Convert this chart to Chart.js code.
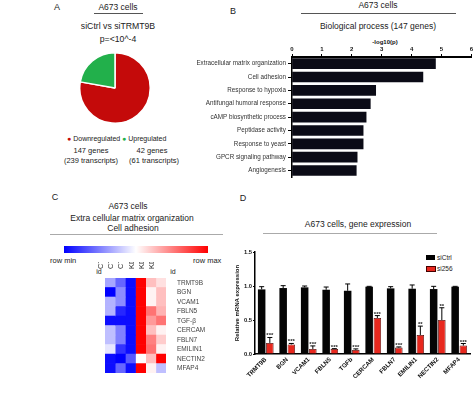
<!DOCTYPE html>
<html>
<head>
<meta charset="utf-8">
<script src="https://cdn.jsdelivr.net/npm/chart.js@4.4.1/dist/chart.umd.min.js"></script>
<style>
  body { margin: 0; background: #fff; }
  #fig { position: relative; width: 474px; height: 397px; overflow: hidden; font-family: 'Liberation Sans', Arial, sans-serif; color: #222; }
  .t { position: absolute; white-space: nowrap; line-height: 1; transform: translate(-50%, -50%); color: #222; }
  .l { position: absolute; white-space: nowrap; line-height: 1; transform: translateY(-50%); color: #222; }
  .hr { position: absolute; height: 0; }
  canvas { position: absolute; }
</style>
</head>
<body>
<div id="fig">
  <!-- panel A -->
  <div class="t" style="left:57px;top:7px;font-size:9px">A</div>
  <div class="t" style="left:118px;top:7px;font-size:8.5px">A673 cells</div>
  <div class="hr" style="left:94px;top:13px;width:49px;border-top:1px solid #555"></div>
  <div class="t" style="left:118px;top:26px;font-size:8.7px">siCtrl vs siTRMT9B</div>
  <div class="t" style="left:118px;top:39px;font-size:8.7px">p=&lt;10^-4</div>
  <canvas id="chartA" width="72" height="72" style="left:79px;top:52px"></canvas>
  <div class="l" style="left:67px;top:138px;font-size:7px"><span style="color:#c40a0a">&#9679;</span> Downregulated</div>
  <div class="l" style="left:122px;top:138px;font-size:7px"><span style="color:#22b04b">&#9679;</span> Upregulated</div>
  <div class="t" style="left:91px;top:151px;font-size:7.5px">147 genes</div>
  <div class="t" style="left:91px;top:161px;font-size:7.5px">(239 transcripts)</div>
  <div class="t" style="left:152px;top:151px;font-size:7.5px">42 genes</div>
  <div class="t" style="left:154px;top:161px;font-size:7.5px">(61 transcripts)</div>

  <!-- panel B -->
  <div class="t" style="left:233px;top:11px;font-size:9px">B</div>
  <div class="t" style="left:378px;top:5px;font-size:8.5px">A673 cells</div>
  <div class="hr" style="left:301px;top:13px;width:155px;border-top:1px solid #555"></div>
  <div class="t" style="left:378px;top:26px;font-size:8.5px">Biological process (147 genes)</div>
  <div class="t" style="left:385px;top:42px;font-size:6px;font-weight:bold;color:#111">-log10(p)</div>
  <canvas id="chartB" width="289" height="143" style="left:185px;top:40px"></canvas>

  <!-- panel C -->
  <div class="t" style="left:55px;top:197px;font-size:9px">C</div>
  <div class="t" style="left:128px;top:206px;font-size:8.5px">A673 cells</div>
  <div class="t" style="left:132px;top:218px;font-size:8.5px">Extra cellular matrix organization</div>
  <div class="t" style="left:133px;top:228px;font-size:8.5px">Cell adhesion</div>
  <div class="hr" style="left:50px;top:234px;width:173px;border-top:1.5px solid #aaa"></div>
  <div style="position:absolute;left:64px;top:246px;width:144px;height:7px;background:linear-gradient(to right,#0000ff,#ffffff,#ff0000)"></div>
  <div class="l" style="left:50px;top:261px;font-size:7.5px">row min</div>
  <div class="l" style="left:193px;top:261px;font-size:7.5px">row max</div>
  <div class="t" style="left:99px;top:271px;font-size:7px">id</div>
  <div class="t" style="left:173px;top:271px;font-size:7px">id</div>
  <canvas id="chartC" width="110" height="118" style="left:95px;top:262px"></canvas>

  <!-- panel D -->
  <div class="t" style="left:243px;top:198px;font-size:9px">D</div>
  <div class="t" style="left:358px;top:224px;font-size:8.5px">A673 cells, gene expression</div>
  <div class="hr" style="left:263px;top:233px;width:174px;border-top:1.5px solid #aaa"></div>
  <div style="position:absolute;left:426px;top:255px;width:9px;height:5px;background:#000"></div>
  <div class="l" style="left:437px;top:258px;font-size:6.5px">siCtrl</div>
  <div style="position:absolute;left:426px;top:266px;width:8px;height:4px;background:#e8281e;border:0.5px solid #400"></div>
  <div class="l" style="left:437px;top:268.5px;font-size:6.5px">si256</div>
  <canvas id="chartD" width="242" height="152" style="left:232px;top:245px"></canvas>
</div>

<script>
// Data
const pieLabels = ['Downregulated', 'Upregulated'];
const pieGenes = [147, 42];

const goTerms = ['Extracellular matrix organization', 'Cell adhesion', 'Response to hypoxia',
  'Antifungal humoral response', 'cAMP biosynthetic process', 'Peptidase activity',
  'Response to yeast', 'GPCR signaling pathway', 'Angiogenesis'];
const goScores = [4.8, 4.38, 2.8, 2.62, 2.48, 2.38, 2.38, 2.18, 2.15];

const heatCols = ['CT', 'CT', 'CT', 'KD', 'KD', 'KD'];
const heatGenes = ['TRMT9B', 'BGN', 'VCAM1', 'FBLN5', 'TGF-\u03b2', 'CERCAM', 'FBLN7', 'EMILIN1', 'NECTIN2', 'MFAP4'];
// row-scaled values, -1 = row min (blue), 1 = row max (red)
const heatValues = [
  [-0.35, -0.6, -0.95, 1, 0.25, 0.12],
  [-1, -0.45, -0.95, 1, 0.05, 0.25],
  [-0.3, -0.45, -0.95, 1, 0.05, 0.25],
  [-0.3, -0.85, -0.95, 1, 0.55, 0.3],
  [-0.95, -0.95, -0.95, 1, 0.4, 0.55],
  [-0.25, -0.5, -0.95, 1, 0.25, 0.05],
  [-0.25, -0.5, -0.95, 1, 0.5, 0.2],
  [-0.1, -0.8, -0.95, 1, 0.55, 0.05],
  [-0.95, -1, -0.65, 0, 0.25, 1],
  [-0.95, -0.6, -0.95, 1, 0.05, -0.25]
];

const qpcrGenes = ['TRMT9B', 'BGN', 'VCAM1', 'FBLN5', 'TGFb', 'CERCAM', 'FBLN7', 'EMILIN1', 'NECTIN2', 'MFAP4'];
const ctrlValues = [0.95, 0.97, 0.98, 0.945, 0.93, 0.99, 0.965, 0.96, 0.955, 0.99];
const ctrlErr = [0.04, 0.035, 0.02, 0.04, 0.1, 0.005, 0.025, 0.055, 0.04, 0.005];
const kdValues = [0.163, 0.14, 0.074, 0.074, 0.06, 0.53, 0.094, 0.28, 0.5, 0.124];
const kdErr = [0.08, 0.015, 0.045, 0.005, 0.015, 0.035, 0.01, 0.13, 0.18, 0.03];
const kdStars = ['***', '***', '***', '***', '***', '***', '***', '**', '**', '***'];
const yTicksD = [0, 0.5, 1.0, 1.5];

Chart.defaults.font.family = "'Liberation Sans', Arial, sans-serif";
Chart.defaults.color = '#333';
Chart.defaults.animation = false;
Chart.defaults.responsive = false;
Chart.defaults.plugins.legend.display = false;
Chart.defaults.plugins.tooltip.enabled = false;

// kleur heatmap: blauw - wit - rood
function heatColor(v) {
  if (v < 0) {
    const k = Math.round(255 * (1 + v));
    return 'rgb(' + k + ',' + k + ',255)';
  }
  const k = Math.round(255 * (1 - v));
  return 'rgb(255,' + k + ',' + k + ')';
}

// A: pie
new Chart(document.getElementById('chartA'), {
  type: 'pie',
  data: {
    labels: pieLabels,
    datasets: [{ data: pieGenes, backgroundColor: ['#c40a0a', '#22b04b'], borderColor: '#fff', borderWidth: 1.5 }]
  },
  options: { layout: { padding: 0 } }
});

// B: horizontal bars, axis on top
new Chart(document.getElementById('chartB'), {
  type: 'bar',
  data: {
    labels: goTerms,
    datasets: [{ data: goScores, backgroundColor: '#0b0b16', barThickness: 10 }]
  },
  options: {
    indexAxis: 'y',
    layout: { padding: { left: 0, right: 1, top: 0, bottom: 2 } },
    scales: {
      x: {
        position: 'top', min: 0, max: 6,
        ticks: { stepSize: 1, font: { size: 6, weight: 'bold' }, color: '#111', padding: 1 },
        grid: { drawOnChartArea: false, tickLength: 3, color: '#000' },
        border: { color: '#000', width: 2 },
        afterFit: s => { s.height = 17; }
      },
      y: {
        ticks: { font: { size: 6.3 }, color: '#333', padding: 2, autoSkip: false },
        grid: { drawOnChartArea: false, offset: false, tickLength: 4, color: '#000' },
        border: { color: '#000', width: 1.5 },
        afterFit: s => { s.width = 107; }
      }
    }
  }
});

// C: heatmap als gestapelde balken
new Chart(document.getElementById('chartC'), {
  type: 'bar',
  data: {
    labels: heatGenes,
    datasets: heatCols.map((c, j) => ({
      label: c,
      data: heatGenes.map(() => 1),
      backgroundColor: heatValues.map(r => heatColor(r[j])),
      borderWidth: 0,
      barPercentage: 1,
      categoryPercentage: 1
    }))
  },
  options: {
    indexAxis: 'y',
    layout: { padding: { left: 10, right: 0, top: 0, bottom: 2 } },
    scales: {
      x: { stacked: true, display: false, min: 0, max: heatCols.length },
      x2: {
        type: 'category', labels: heatCols, position: 'top', offset: true,
        grid: { display: false }, border: { display: false },
        ticks: { minRotation: 90, maxRotation: 90, autoSkip: false, font: { size: 7.5 }, color: '#333', padding: 1 },
        afterFit: s => { s.height = 16; }
      },
      y: {
        stacked: true, position: 'right',
        grid: { display: false }, border: { display: false },
        ticks: { font: { size: 6.5 }, color: '#444', padding: 3, autoSkip: false },
        afterFit: s => { s.width = 39; }
      }
    }
  }
});

// D: error bars + sterretjes
const errorBars = {
  id: 'errorBars',
  afterDatasetsDraw(chart) {
    const ctx = chart.ctx;
    const y = chart.scales.y;
    chart.data.datasets.forEach((ds, i) => {
      chart.getDatasetMeta(i).data.forEach((bar, j) => {
        const top = y.getPixelForValue(ds.data[j] + ds.errors[j]);
        ctx.save();
        ctx.strokeStyle = '#000';
        ctx.lineWidth = 1;
        ctx.beginPath();
        ctx.moveTo(bar.x, bar.y);
        ctx.lineTo(bar.x, top);
        ctx.moveTo(bar.x - 2.5, top);
        ctx.lineTo(bar.x + 2.5, top);
        ctx.stroke();
        if (ds.stars) {
          ctx.fillStyle = '#222';
          ctx.font = "bold 6px 'Liberation Sans', Arial, sans-serif";
          ctx.textAlign = 'center';
          ctx.fillText(ds.stars[j], bar.x, top);
        }
        ctx.restore();
      });
    });
  }
};

new Chart(document.getElementById('chartD'), {
  type: 'bar',
  data: {
    labels: qpcrGenes,
    datasets: [
      { label: 'siCtrl', data: ctrlValues, errors: ctrlErr, backgroundColor: '#050505', borderWidth: 0 },
      { label: 'si256', data: kdValues, errors: kdErr, stars: kdStars, backgroundColor: '#e8281e', borderColor: '#4a0a0a', borderWidth: 0.8 }
    ]
  },
  options: {
    layout: { padding: { left: 0, right: 4, top: 7, bottom: 3 } },
    datasets: { bar: { categoryPercentage: 0.76, barPercentage: 0.92 } },
    scales: {
      x: {
        ticks: { minRotation: 45, maxRotation: 45, autoSkip: false, font: { size: 6.2, weight: 'bold' }, color: '#111', padding: 2 },
        grid: { drawOnChartArea: false, drawTicks: false },
        border: { color: '#000', width: 1.5 },
        afterFit: s => { s.height = 40; }
      },
      y: {
        min: 0, max: 1.5,
        afterBuildTicks: s => { s.ticks = yTicksD.map(v => ({ value: v })); },
        ticks: { callback: v => v.toFixed(1), font: { size: 5.8, weight: 'bold' }, color: '#111', padding: 1 },
        grid: { drawOnChartArea: false, tickLength: 2, color: '#000' },
        border: { color: '#000', width: 1.5 },
        title: { display: true, text: 'Relative mRNA expression', font: { size: 6, weight: 'bold' }, color: '#111', padding: 2 },
        afterFit: s => { s.width = 23; }
      }
    }
  },
  plugins: [errorBars]
});
</script>
</body>
</html>
